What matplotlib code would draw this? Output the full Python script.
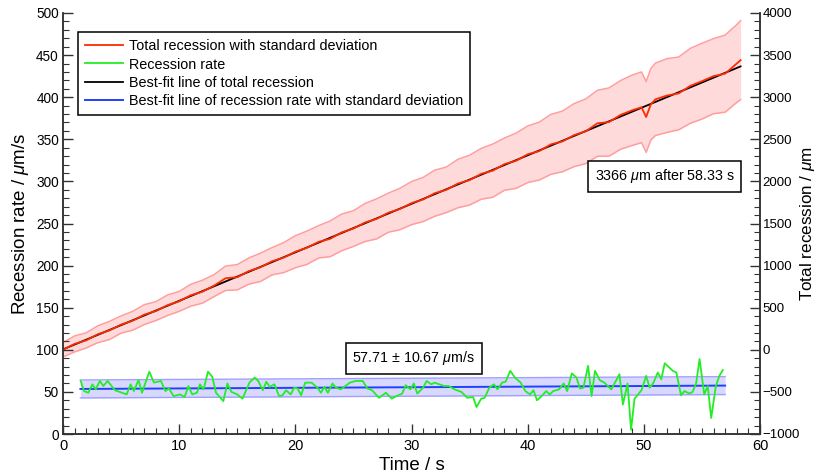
import numpy as np
import matplotlib
matplotlib.use('Agg')
import matplotlib.pyplot as plt
from matplotlib.ticker import MultipleLocator

plt.rcParams['font.family'] = ['Liberation Sans', 'DejaVu Sans']
plt.rcParams['mathtext.fontset'] = 'custom'
plt.rcParams['mathtext.rm'] = 'Liberation Sans'
plt.rcParams['mathtext.it'] = 'Liberation Sans:italic'

# total recession (um)
total_t = list(range(50)) + [49.8, 50.2, 50.6] + list(range(51, 59)) + [58.33]
total = [0, 70, 112, 185, 230, 300, 345, 418, 460, 530, 575, 648, 690, 762, 850,
         862, 935, 980, 1052, 1095, 1165, 1212, 1282, 1318, 1395, 1440, 1512, 1555,
         1628, 1672, 1742, 1785, 1860, 1900, 1975, 2015, 2090, 2128, 2205, 2245,
         2322, 2360, 2440, 2475, 2550, 2595, 2690, 2705, 2790, 2845,
         2880, 2765, 2915,
         2975, 3020, 3045, 3135, 3190, 3250, 3280, 3400, 3440]
total_sd = [85, 95, 90, 100, 108, 102, 112, 118, 112, 122, 118, 130, 136, 130, 145,
            150, 156, 168, 162, 178, 190, 198, 192, 212, 218, 212, 226, 238, 232,
            246, 256, 262, 274, 270, 288, 296, 302, 316, 310, 328, 336, 344, 356,
            360, 374, 384, 392, 405, 408, 418,
            420, 420, 425,
            430, 438, 432, 445, 450, 446, 458, 462, 470]

# best-fit line of total recession
fit_t = [0, 58.33]
fit_total = [5, 3366]

# recession rate (um/s), left axis
rate_t = [1.52, 1.81, 2.18, 2.53, 2.81, 3.18, 3.47, 3.84, 4.47, 5.48, 5.82, 6.1, 6.5,
          6.8, 7.43, 7.83, 8.43, 8.81, 9.12, 9.52, 10.07, 10.47, 10.79, 11.13, 11.53,
          11.79, 12.1, 12.48, 12.85, 13.17, 13.8, 14.15, 14.5, 15.0, 15.45, 16.05,
          16.5, 16.8, 17.2, 17.5, 17.8, 18.2, 18.6, 18.9, 19.2, 19.6, 19.9, 20.2,
          20.5, 20.85, 21.4, 21.9, 22.2, 22.5, 22.8, 23.2, 23.5, 23.9, 24.2, 24.7,
          25.2, 25.8, 26.2, 26.6, 27.2, 27.8, 28.3, 28.7, 29.2, 29.5, 29.9, 30.2,
          30.5, 31.0, 31.3, 31.7, 32.0, 32.4, 32.8, 33.2, 33.7, 34.3, 34.8, 35.3,
          35.6, 36.0, 36.3, 36.7, 37.1, 37.4, 37.8, 38.1, 38.5, 38.9, 39.4, 39.8,
          40.2, 40.5, 40.8, 41.2, 41.6, 41.9, 42.2, 42.7, 43.1, 43.4, 43.8, 44.2,
          44.5, 44.8, 45.2, 45.5, 45.8, 46.2, 46.6, 47.2, 47.9, 48.2, 48.6, 48.9,
          49.2, 49.8, 50.2, 50.5, 50.8, 51.2, 51.5, 51.8, 52.5, 52.8, 53.2, 53.5,
          53.9, 54.2, 54.5, 54.8, 55.2, 55.5, 55.8, 56.2, 56.5, 56.8]
rate = [63, 51, 49, 59, 53, 63, 57, 63, 52, 47, 59, 51, 64, 49, 74, 61, 63, 51, 54,
        45, 47, 44, 57, 47, 49, 59, 53, 74, 68, 49, 39, 60, 50, 47, 42, 61, 67, 63,
        52, 62, 56, 59, 45, 46, 52, 47, 55, 54, 46, 61, 61, 55, 49, 56, 49, 60, 55,
        53, 56, 61, 63, 63, 54, 52, 43, 49, 42, 45, 48, 58, 53, 60, 48, 55, 63, 59,
        61, 59, 57, 57, 53, 50, 43, 44, 32, 42, 43, 55, 59, 53, 61, 62, 75, 67, 61,
        51, 47, 52, 40, 45, 51, 47, 51, 53, 60, 51, 72, 67, 54, 55, 81, 45, 75, 64,
        61, 53, 71, 35, 60, 5, 42, 52, 69, 55, 60, 73, 65, 84, 75, 73, 46, 51, 48,
        50, 60, 89, 47, 57, 19, 57, 69, 76]

# best-fit line of recession rate
rate_fit_t = [1.5, 57.0]
rate_fit = [53.5, 57.5]
rate_sd = 10.67

fig = plt.figure(figsize=(8.19, 4.76), dpi=100)
ax = fig.add_axes([63/819, 1 - 434/476, 697/819, 421/476])
ax2 = ax.twinx()

# rate band + lines on left axis
rf = np.array(rate_fit)
ax.fill_between(rate_fit_t, rf - rate_sd, rf + rate_sd, color='#d8d8ff', lw=0, zorder=1)
ax.plot(rate_fit_t, rf - rate_sd, color='#a0a0ff', lw=1, zorder=2)
ax.plot(rate_fit_t, rf + rate_sd, color='#a0a0ff', lw=1, zorder=2)
l_blue, = ax.plot(rate_fit_t, rate_fit, color='#2040ff', lw=1.4, zorder=3)
l_green, = ax.plot(rate_t, rate, color='#22ee22', lw=1.3, zorder=4)

# total recession on right axis
tt = np.array(total)
sd = np.array(total_sd)
ax2.fill_between(total_t, tt - sd, tt + sd, color='#ffdada', lw=0, zorder=1)
ax2.plot(total_t, tt - sd, color='#ff9e9e', lw=1.1, zorder=2)
ax2.plot(total_t, tt + sd, color='#ff9e9e', lw=1.1, zorder=2)
l_black, = ax2.plot(fit_t, fit_total, color='black', lw=1.3, zorder=3)
l_red, = ax2.plot(total_t, total, color='#ff2a00', lw=1.3, zorder=4)

ax.set_xlim(0, 60)
ax.set_ylim(0, 500)
ax2.set_ylim(-1000, 4000)

ax.xaxis.set_major_locator(MultipleLocator(10))
ax.xaxis.set_minor_locator(MultipleLocator(1))
ax.yaxis.set_major_locator(MultipleLocator(50))
ax.yaxis.set_minor_locator(MultipleLocator(10))
ax2.yaxis.set_major_locator(MultipleLocator(500))
ax2.yaxis.set_minor_locator(MultipleLocator(100))

ax.tick_params(which='both', direction='in', top=False, right=False, color='#333333')
ax.tick_params(axis='x', labelsize=10.5)
ax.tick_params(axis='y', labelsize=9.8, pad=3)
ax.tick_params(which='major', length=7, width=1)
ax.tick_params(which='minor', length=4, width=0.8)
ax2.tick_params(which='both', direction='in', labelsize=9.5, color='#333333', pad=2)
ax2.tick_params(which='major', length=7, width=1)
ax2.tick_params(which='minor', length=4, width=0.8)

for a in (ax, ax2):
    a.spines['top'].set_visible(False)
    for s in ('left', 'right', 'bottom'):
        a.spines[s].set_color('#333333')
        a.spines[s].set_linewidth(1.1)

ax.set_xlabel('Time / s', fontsize=13.5, labelpad=3)
ax.set_ylabel(r'Recession rate / $\mu$m/s', fontsize=13.5, labelpad=4)
ax2.set_ylabel(r'Total recession / $\mu$m', fontsize=12.3)
ax2.yaxis.set_label_coords(1.055, 0.5)

leg = ax2.legend([l_red, l_green, l_black, l_blue],
                 ['Total recession with standard deviation', 'Recession rate',
                  'Best-fit line of total recession',
                  'Best-fit line of recession rate with standard deviation'],
                 loc='upper left', bbox_to_anchor=(0.0215, 0.955), borderaxespad=0,
                 fancybox=False, edgecolor='black', fontsize=10.4, handlelength=2.6,
                 labelspacing=0.3, borderpad=0.5, handletextpad=0.4)
leg.get_frame().set_linewidth(1.1)
leg.get_frame().set_alpha(1)

box = dict(boxstyle='square,pad=0.45', fc='white', ec='black', lw=1.1)
ax.text(51.8, 306, r'3366 $\mu$m after 58.33 s', ha='center', va='center',
        fontsize=10.3, bbox=box, zorder=10)
ax.text(30.2, 90, r'57.71 $\pm$ 10.67 $\mu$m/s', ha='center', va='center',
        fontsize=10.3, bbox=box, zorder=10)
ax.set_zorder(ax2.get_zorder() + 1)
ax.patch.set_visible(False)

fig.savefig('out.png', dpi=100)
